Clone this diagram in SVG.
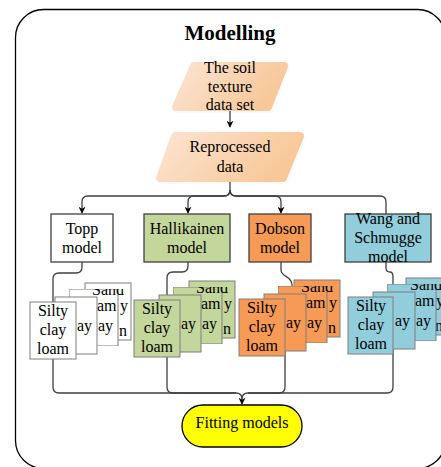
<svg xmlns="http://www.w3.org/2000/svg" width="441" height="467" viewBox="0 0 441 467">
<style>
text{font-family:"Liberation Serif","Times New Roman",serif;font-size:16px;fill:#000}
.c{text-anchor:middle}
.title{font-size:21px;font-weight:bold}
.conn{fill:none;stroke:#404040;stroke-width:1.3}
.box{stroke:#404040;stroke-width:1.3}
.card{stroke:#7f7f7f;stroke-width:1}
.w{fill:#ffffff}
.g{fill:#c3d69b}
.o{fill:#f69a55}
.b{fill:#92cddc}
</style>
<defs>
<linearGradient id="peach" x1="0" y1="0" x2="1" y2="0.3">
<stop offset="0" stop-color="#fce4d2"/>
<stop offset="1" stop-color="#f8c899"/>
</linearGradient>
<marker id="arr" viewBox="0 0 10 10" refX="9" refY="5" markerWidth="7" markerHeight="7" orient="auto" markerUnits="userSpaceOnUse">
<path d="M0,0 L10,5 L0,10 L3,5 Z" fill="#000"/>
</marker>
<clipPath id="c3" clipPathUnits="userSpaceOnUse"><rect x="39" y="-13" width="80" height="57"/></clipPath>
</defs>

<rect x="15.5" y="9.5" width="430" height="459" rx="28" fill="#ffffff" stroke="#000" stroke-width="1.3"/>
<text class="title c" x="230" y="40">Modelling</text>

<g id="connectors">
<path class="conn" d="M230,111 V127" marker-end="url(#arr)"/>
<path class="conn" d="M230,182 V190 Q230,196 224,196 H88 Q82,196 82,202 V213" marker-end="url(#arr)"/>
<path class="conn" d="M230,190 Q230,196 224,196 H194 Q188,196 188,202 V213" marker-end="url(#arr)"/>
<path class="conn" d="M230,190 Q230,196 236,196 H275 Q281,196 281,202 V213" marker-end="url(#arr)"/>
<path class="conn" d="M230,190 Q230,196 236,196 H380 Q386,196 386,202 V214"/>
<path class="conn" d="M82,262 V267 Q82,273 76,273 H59 Q53,273 53,279 V387 Q53,393 59,393 H236 Q242,393 242,399 V404" marker-end="url(#arr)"/>
<path class="conn" d="M188,262 V266 Q188,272 182,272 H173 Q167,272 167,278 V387 Q167,393 173,393 H236"/>
<path class="conn" d="M281,262 V270 C281,277 292,276 292,285 V330 L285,340 V387 Q285,393 279,393 H248 Q242,393 242,399"/>
<path class="conn" d="M386,262 V268 Q386,272 390,272 Q393,272 393,277 V387 Q393,393 387,393 H248"/>
</g>

<g id="soil-texture">
<polygon points="196,68 286,68 270,109 178,109" fill="#000" opacity="0.12" stroke="#000" stroke-width="8" stroke-linejoin="round" stroke-opacity="0.12"/>
<polygon points="194,66 284,66 268,107 176,107" fill="url(#peach)" stroke="url(#peach)" stroke-width="8" stroke-linejoin="round"/>
<text class="c" x="230" y="73">The soil</text>
<text class="c" x="230" y="92">texture</text>
<text class="c" x="230" y="110">data set</text>
</g>

<g id="reprocessed">
<polygon points="177,138 302,138 285,180 162,180" fill="#000" opacity="0.12" stroke="#000" stroke-width="8" stroke-linejoin="round" stroke-opacity="0.12"/>
<polygon points="175,136 300,136 283,178 160,178" fill="url(#peach)" stroke="url(#peach)" stroke-width="8" stroke-linejoin="round"/>
<text class="c" x="230" y="152">Reprocessed</text>
<text class="c" x="230" y="172">data</text>
</g>

<g id="topp">
<rect class="box w" x="51" y="214" width="62" height="48"/>
<text class="c" x="82" y="234">Topp</text>
<text class="c" x="82" y="253">model</text>
</g>
<g id="hallikainen">
<rect class="box g" x="144" y="214" width="86" height="48"/>
<text class="c" x="187" y="234">Hallikainen</text>
<text class="c" x="187" y="253">model</text>
</g>
<g id="dobson">
<rect class="box o" x="249" y="214" width="62" height="48"/>
<text class="c" x="280" y="234">Dobson</text>
<text class="c" x="280" y="253">model</text>
</g>
<g id="wang">
<rect class="box b" x="345" y="214" width="86" height="48"/>
<text class="c" x="388" y="224">Wang and</text>
<text class="c" x="388" y="243">Schmugge</text>
<text class="c" x="388" y="262">model</text>
</g>

<g id="topp-cards" transform="translate(30,302)">
<rect class="card w" x="55" y="-19" width="46" height="57" stroke="#a0a0a0"/>
<text x="90" y="9">y</text><text x="89" y="34">n</text>
<g clip-path="url(#c3)"><rect class="card w" x="39" y="-13" width="49" height="57" stroke="#a0a0a0"/>
<text x="62" y="-7">Sand</text><text x="67" y="9">am</text><text x="68" y="29">ay</text></g>
<rect class="card w" x="25" y="-5" width="42" height="57" stroke="#a0a0a0"/>
<text x="47" y="29">ay</text>
<rect class="card w" x="0" y="0" width="46" height="57"/>
<text class="c" x="23" y="14">Silty</text><text class="c" x="23" y="33">clay</text><text class="c" x="23" y="52">loam</text>
</g>

<g id="hallikainen-cards" transform="translate(134,300)">
<rect class="card g" x="55" y="-19" width="46" height="57"/>
<text x="90" y="9">y</text><text x="89" y="34">n</text>
<g clip-path="url(#c3)"><rect class="card g" x="39" y="-13" width="49" height="57"/>
<text x="62" y="-7">Sand</text><text x="67" y="9">am</text><text x="68" y="29">ay</text></g>
<rect class="card g" x="25" y="-5" width="42" height="57"/>
<text x="47" y="29">ay</text>
<rect class="card g" x="0" y="0" width="46" height="57"/>
<text class="c" x="23" y="14">Silty</text><text class="c" x="23" y="33">clay</text><text class="c" x="23" y="52">loam</text>
</g>

<g id="dobson-cards" transform="translate(239,299)">
<rect class="card o" x="55" y="-19" width="46" height="57"/>
<text x="90" y="9">y</text><text x="89" y="34">n</text>
<g clip-path="url(#c3)"><rect class="card o" x="39" y="-13" width="49" height="57"/>
<text x="62" y="-7">Sand</text><text x="67" y="9">am</text><text x="68" y="29">ay</text></g>
<rect class="card o" x="25" y="-5" width="42" height="57"/>
<text x="47" y="29">ay</text>
<rect class="card o" x="0" y="0" width="46" height="57"/>
<text class="c" x="23" y="14">Silty</text><text class="c" x="23" y="33">clay</text><text class="c" x="23" y="52">loam</text>
</g>

<g id="wang-cards" transform="translate(348,297)">
<rect class="card b" x="58" y="-19" width="46" height="57"/>
<text x="88" y="9">y</text><text x="87" y="34">n</text>
<g clip-path="url(#c3)"><rect class="card b" x="39" y="-13" width="49" height="57"/>
<text x="62" y="-7">Sand</text><text x="67" y="9">am</text><text x="68" y="29">ay</text></g>
<rect class="card b" x="25" y="-5" width="42" height="57"/>
<text x="47" y="29">ay</text>
<rect class="card b" x="0" y="0" width="45" height="57"/>
<text class="c" x="23" y="14">Silty</text><text class="c" x="23" y="33">clay</text><text class="c" x="23" y="52">loam</text>
</g>

<g id="fitting">
<rect x="182" y="405" width="120" height="42" rx="21" fill="#ffff00" stroke="#000" stroke-width="1.3"/>
<text class="c" x="242" y="428">Fitting models</text>
</g>
</svg>
